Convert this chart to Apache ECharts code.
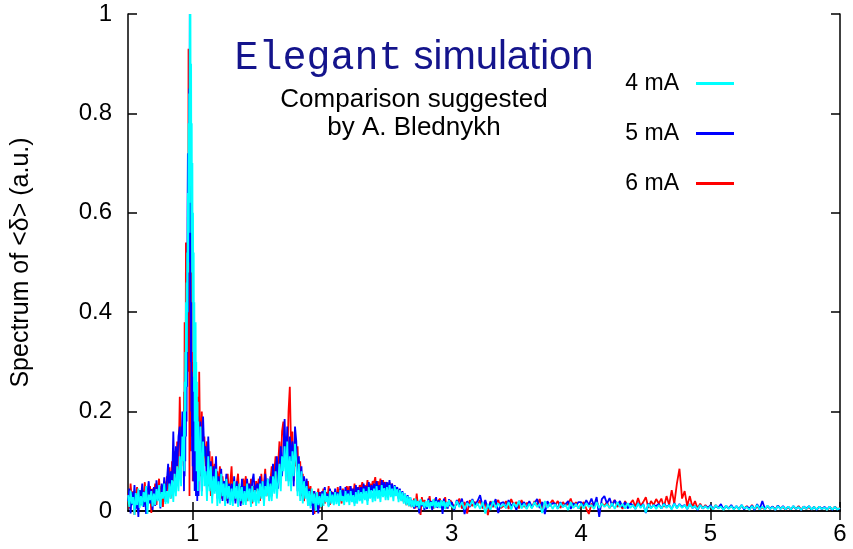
<!DOCTYPE html>
<html>
<head>
<meta charset="utf-8">
<script src="https://cdn.jsdelivr.net/npm/echarts@6/dist/echarts.min.js"></script>
<style>
  html, body { margin: 0; padding: 0; background: #fff; }
  #chart { width: 853px; height: 549px; }
</style>
</head>
<body>
<div id="chart"></div>
<script>
// Frequency sampling segments: [start, step, count]
const baseSeg = [0.50, 0.01, 43];     // 0.50 .. 0.92
const peakSeg = [0.93, 0.0025, 48];   // 0.93 .. 1.0475 (fine sampling of the main line)
const midSeg  = [1.05, 0.01, 195];    // 1.05 .. 2.99
const tailSeg = [3.00, 0.02, 151];    // 3.00 .. 6.00

const xTickValues = [1, 2, 3, 4, 5, 6];
const seriesNames = ['4 mA', '5 mA', '6 mA'];

// Spectrum amplitudes in units of 1e-3 (a.u.)
// ---- 4 mA ----
const spec4mA_base = [
  32, 8, 41, 15, 28, -8, 36, 12, 45, 6,
  30, 10, 38, 18, 50, -6, 33, 22, 40, 9,
  35, 12, 44, 20, 52, 8, 38, 25, 55, 14,
  40, 15, 55, 25, 62, 18, 75, 30, 90, 40,
  110, 50, 150
];
const spec4mA_peak = [
  100, 200, 80, 260, 150, 320, 200, 420, 250, 460,
  320, 520, 400, 640, 480, 780, 560, 840, 620, 1000,
  720, 1000, 660, 900, 560, 780, 480, 700, 420, 600,
  320, 520, 240, 420, 180, 360, 120, 380, 140, 300,
  80, 260, 100, 220, 40, 180, 60, 140
];
const spec4mA_mid = [
  60, 170, 30, 140, 50,
  80, 20, 110, 40, 90, 15, 70, 35, 85, 10,
  60, 15, 75, 30, 55, 10, 65, 25, 50, 12,
  45, 10, 60, 25, 50, 8, 55, 20, 48, 12,
  40, 12, 55, 20, 45, 8, 50, 18, 42, 10,
  45, 15, 55, 25, 60, 10, 50, 30, 65, 20,
  55, 20, 70, 35, 80, 25, 60, 95, 40, 110,
  80, 130, 60, 140, 50, 110, 40, 120, 70, 135,
  100, 30, 95, 20, 80, 15, 60, 25, 50, 10,
  40, 5, 45, 15, 35, 0, 38, 12, 30, 8,
  35, 10, 42, 18, 30, 8, 40, 15, 33, 12,
  38, 14, 35, 10, 42, 20, 30, 12, 40, 18,
  35, 12, 40, 18, 32, 10, 38, 15, 42, 20,
  38, 15, 45, 22, 40, 12, 48, 25, 42, 18,
  45, 20, 50, 25, 42, 18, 52, 28, 46, 22,
  48, 22, 52, 28, 45, 20, 50, 30, 44, 18,
  42, 20, 38, 15, 35, 12, 30, 10, 28, 8,
  22, 8, 25, 10, 20, 5, 24, 12, 18, 6,
  20, 8, 22, 5, 18, 10, 24, 6, 20, 8,
  18, 6, 22, 10, 20, 4, 18, 8, 22, 12
];
const spec4mA_tail = [
  15, 5, 20, 8, 18, 3, 16, 10, 22, 6,
  16, 4, 18, -5, 14, 2, 20, 6, 15, 8,
  14, 6, 18, 3, 16, 8, 20, 5, 15, 4,
  15, 5, 18, 8, 14, -4, 20, 6, 16, 4,
  14, 4, 16, 8, 12, 2, 18, 6, 14, 5,
  15, 5, 16, 8, 12, 4, 18, 6, 15, 8,
  14, 6, 16, 4, 18, 8, 14, 5, 16, 6,
  12, 4, 15, 6, 13, -3, 14, 5, 12, 4,
  12, 5, 14, 6, 12, 3, 15, 5, 13, 6,
  12, 4, 14, 6, 10, 3, 12, 5, 10, 4,
  10, 3, 12, 5, 9, 2, 11, 4, 10, 3,
  10, 3, 12, 5, 8, 2, 10, 4, 12, 3,
  9, 3, 11, 4, 8, 2, 10, 4, 9, 3,
  9, 3, 10, 4, 8, 2, 9, 4, 10, 3,
  8, 3, 9, 4, 7, 2, 9, 3, 8, 3,
  6
];

// ---- 5 mA ----
const spec5mA_base = [
  20, 45, -5, 38, 12, 52, 3, 30, -12, 42,
  25, 55, 8, 40, -6, 35, 60, 15, 44, 2,
  48, 10, 62, 22, 40, 5, 55, 30, 68, 18,
  60, 95, 30, 80, 45, 160, 55, 130, 90, 150,
  170, 90, 200
];
const spec5mA_peak = [
  120, 40, 190, 70, 230, 100, 280, 150, 380, 180,
  450, 250, 600, 720, 400, 700, 500, 850, 600, 1000,
  700, 520, 300, 420, 200, 280, 120, 260, 90, 230,
  60, 270, 80, 200, 40, 250, 90, 180, 30, 210,
  70, 160, 20, 190, 60, 140, 30, 170
];
const spec5mA_mid = [
  90, 180, 40, 190, 110,
  130, 40, 150, 70, 100, 30, 90, 50, 110, 25,
  70, 30, 85, 20, 60, 45, 75, 15, 55, 35,
  55, 25, 70, 15, 60, 35, 50, 10, 65, 30,
  50, 20, 65, 30, 55, 15, 60, 75, 35, 50,
  55, 25, 70, 40, 60, 20, 75, 45, 65, 30,
  70, 30, 95, 50, 80, 110, 45, 90, 130, 70,
  120, 185, 80, 170, 60, 150, 100, 140, 50, 170,
  140, 40, 110, 30, 90, 20, 70, 35, 65, 15,
  45, 10, 35, -8, 40, 20, 30, -5, 38, 15,
  40, 20, 48, 25, 35, 10, 45, 30, 38, 15,
  45, 25, 38, 15, 50, 30, 42, 20, 48, 28,
  42, 20, 50, 28, 45, 15, 52, 30, 48, 22,
  48, 25, 55, 35, 50, 20, 58, 30, 52, 40,
  55, 35, 60, 40, 52, 30, 62, 45, 58, 38,
  58, 40, 62, 35, 55, 30, 52, 42, 48, 25,
  45, 25, 40, 20, 35, 15, 32, 12, 28, 10,
  20, 5, 24, 8, 18, -5, 22, 10, 15, 2,
  18, 4, 25, 10, 20, 2, 22, 8, 28, 6,
  22, 8, 20, -6, 25, 10, 18, 5, 24, 10
];
const spec5mA_tail = [
  18, 2, 22, 10, 25, -6, 20, 8, 24, 12,
  20, 32, 8, 22, 5, 18, 10, 24, -4, 16,
  18, 6, 22, 10, 16, 2, 20, 12, 18, 5,
  20, 8, 15, 24, 6, 18, -6, 20, 10, 16,
  15, 5, 18, 8, 14, 20, 4, 16, 10, 18,
  18, 8, 22, 12, 25, 10, 28, -12, 24, 30,
  15, 26, 10, 22, 12, 20, 8, 18, 5, 15,
  12, 4, 16, 8, 14, -4, 15, 6, 12, 10,
  14, 5, 15, 8, 12, 4, 16, 6, 14, 8,
  12, 4, 14, 6, 10, 2, 12, 5, 10, 6,
  12, 4, 10, 6, 14, 3, 10, 5, 12, 4,
  10, 4, 12, 3, 9, 5, 11, 2, 14, 4,
  20, 4, 10, 5, 9, 2, 11, 4, 10, 3,
  9, 3, 10, 4, 8, 2, 9, 5, 10, 3,
  8, 2, 9, 4, 8, 3, 9, 2, 8, 3,
  5
];

// ---- 6 mA ----
const spec6mA_base = [
  35, 5, 55, 18, 40, -8, 30, 48, 10, 38,
  12, 42, 28, 58, 5, 36, 20, 50, -4, 45,
  30, 55, 12, 45, 65, 20, 50, 8, 60, 35,
  70, 40, 88, 25, 100, 60, 120, 45, 140, 80,
  230, 100, 170
];
const spec6mA_peak = [
  90, 240, 120, 380, 150, 300, 200, 540, 250, 450,
  300, 520, 280, 600, 350, 930, 300, 700, 30, 450,
  120, 400, 200, 520, 250, 690, 150, 300, 60, 270,
  100, 240, 60, 200, 90, 280, 80, 240, 120, 200,
  50, 180, 90, 230, 40, 160, 70, 140
];
const spec6mA_mid = [
  280, 70, 200, 90, 150,
  90, 140, 50, 120, 30, 110, 60, 95, 40, 80,
  50, 90, 25, 70, 40, 60, 20, 75, 35, 55,
  90, 30, 60, 20, 55, 75, 25, 50, 15, 65,
  45, 70, 20, 55, 30, 65, 15, 50, 25, 60,
  40, 65, 20, 75, 35, 55, 85, 30, 60, 45,
  60, 90, 40, 80, 110, 55, 95, 140, 80, 160,
  180, 100, 150, 90, 200, 250, 120, 160, 60, 110,
  90, 130, 45, 100, 30, 75, 20, 55, 40, 60,
  30, 50, 10, 40, -6, 35, 20, 45, 5, 38,
  30, 45, 15, 38, 22, 50, 12, 40, 28, 35,
  40, 20, 48, 30, 35, 15, 45, 25, 38, 50,
  38, 50, 25, 45, 30, 55, 20, 48, 35, 52,
  45, 58, 30, 52, 40, 62, 28, 55, 45, 60,
  55, 68, 40, 60, 48, 65, 38, 62, 50, 58,
  60, 45, 58, 38, 55, 32, 50, 40, 45, 30,
  40, 22, 35, 18, 30, 12, 28, 10, 25, 8,
  15, 25, 5, 35, 10, 20, -8, 28, 12, 22,
  22, 10, 18, 30, 8, 20, 5, 25, 12, 18,
  15, 25, 8, 20, 12, 28, 5, 18, 10, 22
];
const spec6mA_tail = [
  20, 8, 15, 25, 5, 18, -5, 22, 10, 18,
  12, 22, 5, 18, -8, 20, 8, 15, 22, 6,
  10, 20, 4, 24, 12, 18, 5, 22, 8, 16,
  16, 6, 20, 10, 24, 4, 18, 8, 15, 22,
  12, 20, 6, 18, 10, 15, 25, 8, 18, 5,
  10, 18, 5, -6, 15, 8, 20, 4, 16, 10,
  18, 6, 14, 22, 8, 16, 4, 20, 10, 15,
  22, 8, 26, 10, 18, 28, 6, 20, 12, 24,
  15, 25, 8, 30, 12, 42, 15, 55, 85, 25,
  40, 10, 30, 8, 20, 5, 15, 5, 12, 6,
  10, 4, 12, 6, 9, 3, 11, 5, 10, 4,
  9, 3, 11, 5, 10, 2, 12, 4, 9, 3,
  8, 3, 10, 4, 9, 2, 11, 5, 8, 3,
  8, 3, 9, 4, 10, 2, 9, 4, 8, 3,
  8, 3, 9, 4, 7, 2, 8, 3, 9, 4,
  6
];

// Frequency samples for all segments
const freq = [];
[baseSeg, peakSeg, midSeg, tailSeg].forEach(([start, step, count]) => {
  for (let i = 0; i < count; i++) freq.push(+(start + i * step).toFixed(4));
});

function pairs(parts) {
  const v = [].concat(...parts);
  return freq.map((f, i) => [f, v[i] / 1000]);
}

const sans = '"Liberation Sans", Arial, Helvetica, sans-serif';
const mono = '"Courier New", "Liberation Mono", monospace';
const colors = { '4 mA': '#00ffff', '5 mA': '#0000ff', '6 mA': '#ff0000' };

function spectrumSeries(name, parts) {
  return {
    name, type: 'line', data: pairs(parts),
    showSymbol: false, symbol: 'none', clip: false, animation: false,
    lineStyle: { color: colors[name], width: 1.8 },
    itemStyle: { color: colors[name] }
  };
}

const chart = echarts.init(document.getElementById('chart'), null, { renderer: 'canvas' });

const frameAxisLine = { show: true, lineStyle: { color: '#000', width: 1.5 } };
const innerTick = { show: true, inside: true, length: 9, lineStyle: { color: '#000', width: 1.5 } };

chart.setOption({
  animation: false,
  backgroundColor: '#ffffff',
  grid: { left: 128, right: 13, top: 14, bottom: 38, containLabel: false },
  xAxis: [
    {
      type: 'value', min: 0.5, max: 6, position: 'bottom',
      axisLine: frameAxisLine,
      axisTick: Object.assign({ customValues: xTickValues }, innerTick),
      axisLabel: { customValues: xTickValues, color: '#000', fontSize: 24, fontFamily: sans, margin: 11 },
      splitLine: { show: false }
    },
    {
      type: 'value', min: 0.5, max: 6, position: 'top',
      axisLine: frameAxisLine,
      axisTick: Object.assign({ customValues: xTickValues }, innerTick),
      axisLabel: { show: false },
      splitLine: { show: false }
    }
  ],
  yAxis: [
    {
      type: 'value', min: 0, max: 1, interval: 0.2, position: 'left',
      name: 'Spectrum of <δ> (a.u.)', nameLocation: 'middle', nameGap: 94, nameRotate: 90,
      nameTextStyle: { color: '#000', fontSize: 25, fontFamily: sans },
      axisLine: frameAxisLine,
      axisTick: innerTick,
      axisLabel: { color: '#000', fontSize: 24, fontFamily: sans, margin: 16 },
      splitLine: { show: false }
    },
    {
      type: 'value', min: 0, max: 1, interval: 0.2, position: 'right',
      axisLine: frameAxisLine,
      axisTick: innerTick,
      axisLabel: { show: false },
      splitLine: { show: false }
    }
  ],
  legend: {
    data: seriesNames,
    orient: 'vertical', align: 'right',
    right: 114, top: 67,
    itemWidth: 38, itemHeight: 3, itemGap: 27,
    icon: 'rect',
    textStyle: { color: '#000', fontSize: 23, fontFamily: sans, padding: [0, 12, 0, 0] },
    selectedMode: false
  },
  graphic: [
    {
      type: 'text', x: 414, y: 58,
      style: {
        text: '{m|Elegant}{s| simulation}',
        align: 'center', verticalAlign: 'middle',
        rich: {
          m: { fontFamily: mono, fontSize: 40, fill: '#14148c', color: '#14148c' },
          s: { fontFamily: sans, fontSize: 40, fill: '#14148c', color: '#14148c' }
        }
      }
    },
    {
      type: 'text', x: 414, y: 114,
      style: {
        text: 'Comparison suggested\nby A. Blednykh',
        align: 'center', verticalAlign: 'middle',
        fontFamily: sans, fontSize: 26, lineHeight: 28, fill: '#000'
      }
    }
  ],
  series: [
    spectrumSeries('6 mA', [spec6mA_base, spec6mA_peak, spec6mA_mid, spec6mA_tail]),
    spectrumSeries('5 mA', [spec5mA_base, spec5mA_peak, spec5mA_mid, spec5mA_tail]),
    spectrumSeries('4 mA', [spec4mA_base, spec4mA_peak, spec4mA_mid, spec4mA_tail])
  ]
});
</script>
</body>
</html>
